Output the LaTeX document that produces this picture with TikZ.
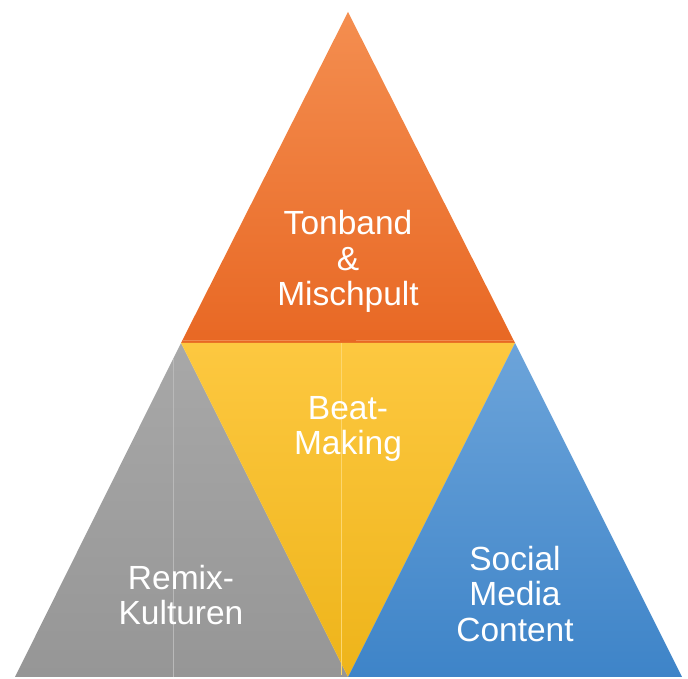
\documentclass[tikz,border=0pt]{standalone}
\usepackage{fontspec}
\setmainfont{Liberation Sans}
\begin{document}
\begin{tikzpicture}[x=1pt,y=1pt,
  lbl/.style={text=white,align=center,inner sep=0pt,font=\fontsize{33.5}{35.5}\selectfont}]
\useasboundingbox (0,0) rectangle (688,679);
% corners
\coordinate (A) at (348,667);
\coordinate (L) at (181,336);
\coordinate (R) at (515,336);
\coordinate (BL) at (15,2);
\coordinate (BM) at (348,2);
\coordinate (BR) at (682,2);
% triangles
\shade[top color={rgb,255:red,244;green,142;blue,80}, bottom color={rgb,255:red,232;green,104;blue,36}] (A) -- (R) -- (L) -- cycle;
\shade[top color={rgb,255:red,168;green,168;blue,168}, bottom color={rgb,255:red,150;green,150;blue,150}] (L) -- (BM) -- (BL) -- cycle;
\shade[top color={rgb,255:red,253;green,200;blue,64}, bottom color={rgb,255:red,238;green,180;blue,26}] (L) -- (R) -- (BM) -- cycle;
\shade[top color={rgb,255:red,108;green,164;blue,218}, bottom color={rgb,255:red,62;green,132;blue,200}] (R) -- (BR) -- (BM) -- cycle;
% faint seams
\draw[line width=0.8pt,color={rgb,255:red,240;green,140;blue,80}] (183,339) -- (340,339) (356,339) -- (513,339);
\draw[line width=0.8pt,color={rgb,255:red,185;green,185;blue,185}] (173,320) -- (173,2);
\draw[line width=0.8pt,color={rgb,255:red,253;green,215;blue,110}] (341,336) -- (341,4);
% labels
\node[lbl] (top) at (348,417.5) {Tonband\\\&\\Mischpult};
\node[lbl] (mid) at (348,250) {Beat-\\Making};
\node[lbl] (left) at (181,84) {Remix-\\Kulturen};
\node[lbl] (right) at (515,85) {Social\\Media\\Content};
\end{tikzpicture}
\end{document}
